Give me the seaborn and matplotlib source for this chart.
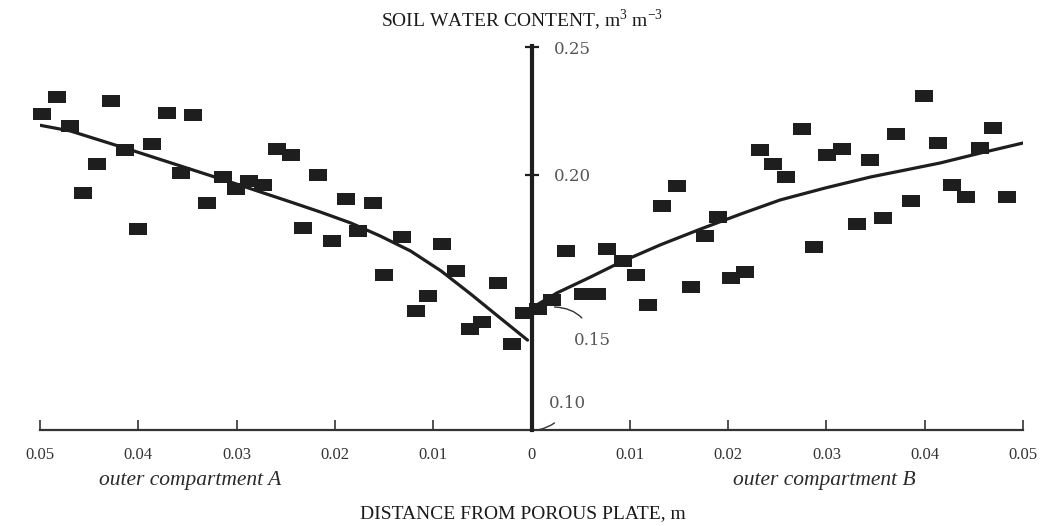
import numpy as np
import pandas as pd
import seaborn as sns
import matplotlib.pyplot as plt
from matplotlib.path import Path

# ---- data -----------------------------------------------------------------
# Outer compartment A (distance from plate, m  -> plotted to the left)
dist_A = [0.0498, 0.0483, 0.0469, 0.0456, 0.0442, 0.0428, 0.0414, 0.0400,
          0.0386, 0.0371, 0.0357, 0.0344, 0.0330, 0.0314, 0.0301, 0.0287,
          0.0273, 0.0259, 0.0245, 0.0232, 0.0217, 0.0203, 0.0189, 0.0177,
          0.0161, 0.0150, 0.0132, 0.0118, 0.0105, 0.0091, 0.0077, 0.0063,
          0.0050, 0.0034, 0.0020, 0.0008]
theta_A = [0.2238, 0.2304, 0.2191, 0.1928, 0.2042, 0.2288, 0.2097, 0.1787,
           0.2120, 0.2241, 0.2007, 0.2234, 0.1889, 0.1991, 0.1944, 0.1975,
           0.1960, 0.2101, 0.2077, 0.1791, 0.1999, 0.1740, 0.1905, 0.1779,
           0.1889, 0.1607, 0.1756, 0.1466, 0.1525, 0.1728, 0.1623, 0.1396,
           0.1423, 0.1576, 0.1337, 0.1458]

# Outer compartment B (plotted to the right)
dist_B = [0.0007, 0.0021, 0.0035, 0.0052, 0.0067, 0.0077, 0.0093, 0.0106,
          0.0119, 0.0133, 0.0148, 0.0162, 0.0176, 0.0190, 0.0203, 0.0217,
          0.0232, 0.0246, 0.0259, 0.0275, 0.0287, 0.0301, 0.0316, 0.0331,
          0.0344, 0.0358, 0.0371, 0.0386, 0.0399, 0.0414, 0.0428, 0.0442,
          0.0456, 0.0469, 0.0484]
theta_B = [0.1474, 0.1509, 0.1701, 0.1533, 0.1533, 0.1709, 0.1662, 0.1607,
           0.1490, 0.1877, 0.1956, 0.1560, 0.1760, 0.1834, 0.1595, 0.1619,
           0.2097, 0.2042, 0.1991, 0.2179, 0.1717, 0.2077, 0.2101, 0.1807,
           0.2057, 0.1830, 0.2159, 0.1897, 0.2308, 0.2124, 0.1960, 0.1913,
           0.2104, 0.2183, 0.1913]

# fitted curves
curve_A_dist = [0.0502, 0.0469, 0.0411, 0.0357, 0.0303, 0.0245, 0.0215,
                0.0184, 0.0154, 0.0123, 0.0092, 0.0062, 0.0032, 0.0004]
curve_A_theta = [0.2195, 0.2171, 0.2101, 0.2034, 0.1967, 0.1893, 0.1854,
                 0.1811, 0.1760, 0.1701, 0.1623, 0.1533, 0.1439, 0.1352]
curve_B_dist = [0.0002, 0.0026, 0.0060, 0.0091, 0.0131, 0.0172, 0.0213,
                0.0253, 0.0299, 0.0345, 0.0380, 0.0416, 0.0457, 0.0500]
curve_B_theta = [0.1482, 0.1537, 0.1599, 0.1658, 0.1725, 0.1787, 0.1846,
                 0.1901, 0.1948, 0.1991, 0.2018, 0.2046, 0.2085, 0.2124]

x_ticks = [-0.05, -0.04, -0.03, -0.02, -0.01, 0.0, 0.01, 0.02, 0.03, 0.04, 0.05]
x_tick_labels = ["0.05", "0.04", "0.03", "0.02", "0.01", "0",
                 "0.01", "0.02", "0.03", "0.04", "0.05"]
y_ticks = [0.20, 0.25]
y_tick_labels = ["0.20", "0.25"]

# ---- frames ---------------------------------------------------------------
pts = pd.DataFrame({
    "x": [-d for d in dist_A] + list(dist_B),
    "theta": list(theta_A) + list(theta_B),
})
curve_A = pd.DataFrame({"x": [-d for d in curve_A_dist], "theta": curve_A_theta})
curve_B = pd.DataFrame({"x": curve_B_dist, "theta": curve_B_theta})

# ---- style ----------------------------------------------------------------
sns.set_theme(style="white")
plt.rcParams['font.family'] = ['Liberation Serif', 'DejaVu Serif']
plt.rcParams['mathtext.fontset'] = 'custom'
plt.rcParams['mathtext.rm'] = 'Liberation Serif'

fig = plt.figure(figsize=(10.5, 5.26), dpi=100)
fig.patch.set_facecolor("white")
ax = fig.add_axes([40 / 1050, 96 / 526, 983 / 1050, 383 / 526])
ax.set_facecolor("white")

ink = "#1e1e1e"
rect = Path([(-1, -0.76), (1, -0.76), (1, 0.76), (-1, 0.76), (-1, -0.76)],
            [Path.MOVETO, Path.LINETO, Path.LINETO, Path.LINETO, Path.CLOSEPOLY])

sns.lineplot(data=curve_A, x="x", y="theta", sort=False, color=ink,
             linewidth=2.3, ax=ax, zorder=2)
sns.lineplot(data=curve_B, x="x", y="theta", sort=False, color=ink,
             linewidth=2.3, ax=ax, zorder=2)
sns.scatterplot(data=pts, x="x", y="theta", marker=rect, s=150, color=ink,
                linewidth=0, ax=ax, zorder=3, clip_on=False)

ax.set_xlim(-0.05, 0.05)
ax.set_ylim(0.10, 0.25)
ax.set_xlabel("")
ax.set_ylabel("")

# spines: bottom axis line, vertical axis through x = 0
ax.spines["top"].set_visible(False)
ax.spines["left"].set_visible(False)
ax.spines["bottom"].set_color("#333333")
ax.spines["bottom"].set_linewidth(1.6)
ax.spines["right"].set_position(("data", 0))
ax.spines["right"].set_color(ink)
ax.spines["right"].set_linewidth(3.0)
ax.spines["right"].set_zorder(4)
ax.spines["right"].set_bounds(0.10, 0.2505)

ax.set_xticks(x_ticks)
ax.set_xticklabels(x_tick_labels)
ax.tick_params(axis="x", direction="in", length=7, width=1.2, color="#333333",
               pad=12, labelsize=12, labelcolor="#333333", bottom=True)

ax.yaxis.tick_right()
ax.set_yticks(y_ticks)
ax.set_yticklabels(y_tick_labels, family="DejaVu Serif")
ax.tick_params(axis="y", direction="inout", length=10, width=1.6, color=ink,
               pad=11, labelsize=12, labelcolor="#555555", right=True, left=False)

# offset labels for 0.15 and 0.10 with curved leader lines
ax.annotate("0.15", xy=(0.0022, 0.1482), xytext=(0.0062, 0.1352),
            fontsize=12, family="DejaVu Serif", color="#555555",
            ha="center", va="center",
            arrowprops=dict(arrowstyle="-", color="#333333", lw=1.0,
                            shrinkA=9, shrinkB=1,
                            connectionstyle="arc3,rad=0.4"))
ax.annotate("0.10", xy=(0.0006, 0.1000), xytext=(0.0037, 0.1105),
            fontsize=12, family="DejaVu Serif", color="#555555",
            ha="center", va="center",
            arrowprops=dict(arrowstyle="-", color="#333333", lw=1.0,
                            shrinkA=8, shrinkB=1,
                            connectionstyle="arc3,rad=-0.3"))

# compartment labels
fig.text(190 / 1050, 1 - 481 / 526, "outer compartment A", style="italic",
         fontsize=15.5, color="#2a2a2a", ha="center", va="center")
fig.text(824 / 1050, 1 - 481 / 526, "outer compartment B", style="italic",
         fontsize=15.5, color="#2a2a2a", ha="center", va="center")

# axis titles
fig.text(522 / 1050, 1 - 20 / 526, "SOIL WATER CONTENT, m$^{3}$ m$^{-3}$",
         fontsize=14, color="#1a1a1a", ha="center", va="center")
fig.text(523 / 1050, 1 - 514 / 526, "DISTANCE FROM POROUS PLATE, m",
         fontsize=14, color="#1a1a1a", ha="center", va="center")

fig.savefig("out.png", dpi=100, facecolor="white")
